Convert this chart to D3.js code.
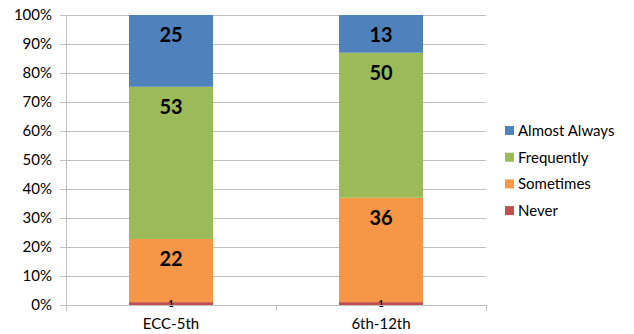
<!DOCTYPE html>
<html>
<head>
<meta charset="utf-8">
<script src="https://cdn.jsdelivr.net/npm/d3@7"></script>
<style>
  html, body { margin: 0; padding: 0; background: #fff; }
  svg text { font-family: Lato, "Open Sans", sans-serif; }
</style>
</head>
<body>
<svg id="chart" width="634" height="334"></svg>
<script>
// Grade bands and response counts per band
const categories = ["ECC-5th", "6th-12th"];
const seriesNames = ["Never", "Sometimes", "Frequently", "Almost Always"];
const never = [1, 1];
const sometimes = [22, 36];
const frequently = [53, 50];
const almostAlways = [25, 13];
const tickLabels = ["0%", "10%", "20%", "30%", "40%", "50%", "60%", "70%", "80%", "90%", "100%"];
const colors = ["#c0504d", "#f79646", "#9bbb59", "#4f81bd"];

const seriesValues = [never, sometimes, frequently, almostAlways];
const rows = categories.map((c, i) => {
  const r = { category: c };
  seriesNames.forEach((s, k) => { r[s] = seriesValues[k][i]; });
  return r;
});

const svg = d3.select("#chart");
const margin = { left: 66, right: 148, top: 15, bottom: 29 };
const width = 634 - margin.left - margin.right;
const height = 334 - margin.top - margin.bottom;
const g = svg.append("g").attr("transform", `translate(${margin.left},${margin.top})`);

const x = d3.scaleBand().domain(categories).range([0, width]).paddingInner(0.6).paddingOuter(0.3);
const y = d3.scaleLinear().domain([0, 1]).range([height, 0]);

// Gridlines
g.append("g").selectAll("line").data(d3.range(1, 11).map(d => d / 10)).join("line")
  .attr("x1", 0).attr("x2", width)
  .attr("y1", d => Math.round(y(d)) + 0.5).attr("y2", d => Math.round(y(d)) + 0.5)
  .attr("stroke", "#bfbfbf").attr("stroke-width", 1);

// Y axis
const yAxis = g.append("g")
  .call(d3.axisLeft(y).tickValues(d3.range(0, 11).map(d => d / 10))
    .tickFormat((d, i) => tickLabels[i]).tickSize(6).tickSizeOuter(0).tickPadding(8));
yAxis.select(".domain").attr("stroke", "#bfbfbf");
yAxis.selectAll(".tick line").attr("stroke", "#bfbfbf");
yAxis.selectAll(".tick text").attr("font-size", 15).attr("fill", "#000")
  .style("font-family", "Lato, sans-serif");

// Stacked, normalized segments
const stack = d3.stack().keys(seriesNames).offset(d3.stackOffsetExpand);
const layers = stack(rows);

const layerG = g.append("g").selectAll("g").data(layers).join("g")
  .attr("fill", (d, i) => colors[i]);
layerG.selectAll("rect").data(d => d).join("rect")
  .attr("x", d => x(d.data.category))
  .attr("width", x.bandwidth())
  .attr("y", d => y(d[1]))
  .attr("height", d => y(d[0]) - y(d[1]));

// Value labels near the top of each segment
layers.forEach((layer, li) => {
  layer.forEach(d => {
    const val = d.data[layer.key];
    const small = (y(d[0]) - y(d[1])) < 10;
    g.append("text")
      .attr("x", x(d.data.category) + x.bandwidth() / 2)
      .attr("y", small ? y(d[1]) + 5 : y(d[1]) + 27)
      .attr("text-anchor", "middle")
      .attr("font-size", small ? 9 : 20)
      .attr("font-weight", "bold")
      .attr("fill", "#000")
      .text(val);
  });
});

// X axis
const xAxis = g.append("g").attr("transform", `translate(0,${height})`);
xAxis.append("line").attr("x1", 0).attr("x2", width).attr("y1", 0.5).attr("y2", 0.5)
  .attr("stroke", "#bfbfbf");
[0, width / 2, width].forEach(px => {
  xAxis.append("line").attr("x1", Math.round(px) + 0.5).attr("x2", Math.round(px) + 0.5)
    .attr("y1", 0).attr("y2", 6).attr("stroke", "#bfbfbf");
});
xAxis.selectAll("text.cat").data(categories).join("text")
  .attr("class", "cat")
  .attr("x", d => x(d) + x.bandwidth() / 2)
  .attr("y", 24)
  .attr("text-anchor", "middle")
  .attr("font-size", 15)
  .attr("fill", "#000")
  .text(d => d);

// Legend, top series first
const legendItems = seriesNames.map((s, i) => ({ name: s, color: colors[i] })).reverse();
const legend = svg.append("g").attr("transform", "translate(505,131)");
legendItems.forEach((it, i) => {
  const row = legend.append("g").attr("transform", `translate(0,${i * 26.7})`);
  row.append("rect").attr("x", 0).attr("y", -5).attr("width", 9).attr("height", 9).attr("fill", it.color);
  row.append("text").attr("x", 13).attr("y", 5).attr("font-size", 15).attr("fill", "#000").text(it.name);
});
</script>
</body>
</html>
